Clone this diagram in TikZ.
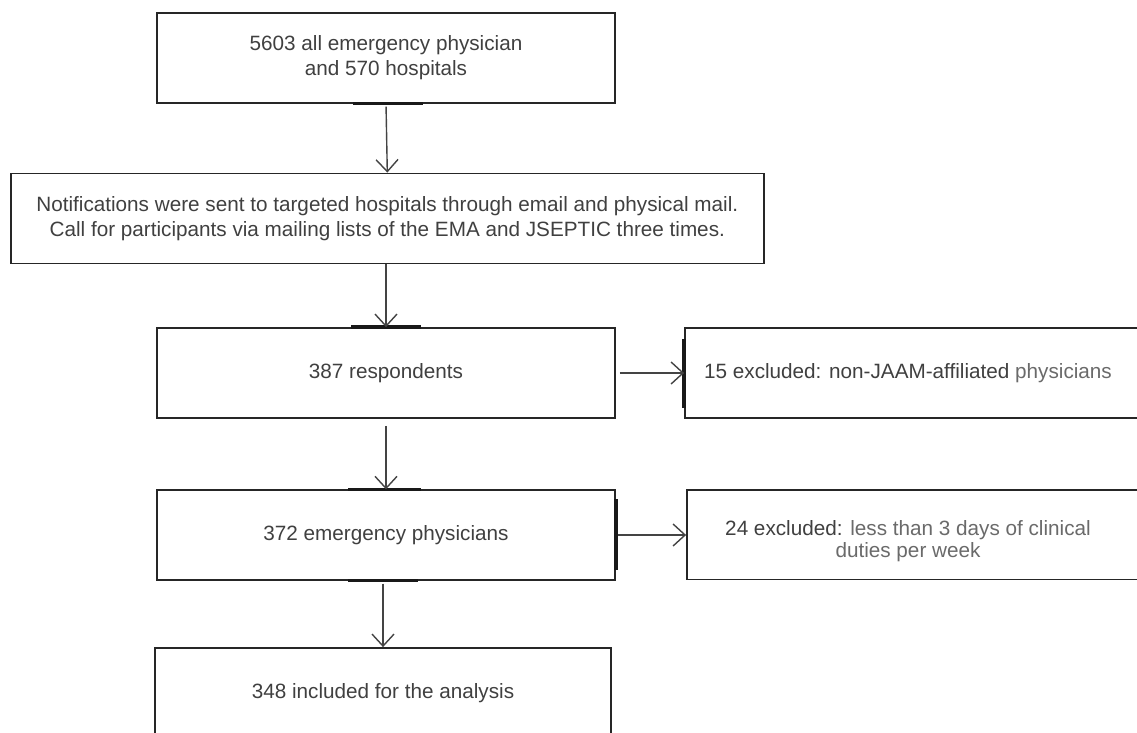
\documentclass[tikz,border=0pt]{standalone}
\usepackage{fontspec}
\setmainfont{Liberation Sans}
\usetikzlibrary{arrows.meta}
\definecolor{txt}{HTML}{404040}
\definecolor{txtl}{HTML}{6A6A6A}
\definecolor{edge}{HTML}{262626}
\definecolor{arrc}{HTML}{444444}
\begin{document}
\begin{tikzpicture}[x=1pt,y=-1pt,
  box/.style={draw=edge, line width=1.8pt, inner sep=0pt, align=center, text=txt,
    font=\fontsize{20.7}{25}\selectfont},
  lbl/.style={inner sep=0pt, align=center, text=txt, font=\fontsize{20.7}{25}\selectfont},
  arr/.style={draw=arrc, line width=1.4pt, -{Straight Barb[length=12pt,width=22pt]}},
  bar/.style={draw=black!90, line width=3.6pt}]
\useasboundingbox (0,0) rectangle (1137,732);
\fill[white] (0,0) rectangle (1137,732);
\begin{scope}
\clip (0,0) rectangle (1137,732);
\node[box, minimum width=458pt, minimum height=90pt] (n1) at (386,57.7)
  {5603 all emergency physician\\and 570 hospitals};
\node[box, minimum width=753pt, minimum height=90pt] (n2) at (387.3,218.5)
  {Notifications were sent to targeted hospitals through email and physical mail.\\
   Call for participants via mailing lists of the EMA and JSEPTIC three times.};
\node[box, minimum width=458pt, minimum height=90pt] (n3) at (386,373) {387 respondents};
\node[box, minimum width=460pt, minimum height=90pt] (r1) at (915,373) {};
\node[lbl] (t1) at (908,373) {15 excluded: non-JAAM-affiliated \textcolor{txtl}{physicians}};
\node[box, minimum width=458pt, minimum height=89.5pt] (n4) at (386,535) {372 emergency physicians};
\node[box, minimum width=458pt, minimum height=89.5pt] (r2) at (916,534.7) {};
\node[lbl, font=\fontsize{20.7}{22}\selectfont] (t2) at (908,541)
  {24 excluded: \textcolor{txtl}{less than 3 days of clinical}\\\textcolor{txtl}{duties per week}};
\node[box, minimum width=456pt, minimum height=90pt] (n5) at (383,693) {348 included for the analysis};
\end{scope}
% thicker segments on box edges
\draw[bar] (n1.south) ++(-33,0) -- ++(70,0);
\draw[bar] (n3.north) ++(-35,0) -- ++(70,0);
\draw[bar] (n4.north) ++(-38,0) -- ++(73,0);
\draw[bar] (n4.south) ++(-38,0) -- ++(70,0);
\draw[bar] (n4.east) ++(0,-36) -- ++(0,71);
\draw[bar] (r1.west) ++(0,-34) -- ++(0,69);
% connectors
\draw[arr, shorten <=3pt] (n1.south) -- (n2.north);
\draw[arr] (n3.north |- n2.south) -- (n3.north);
\draw[arr, shorten <=7pt] (n3.south) -- (n4.north);
\draw[arr, shorten <=3pt] (n5.north |- n4.south) -- (n5.north);
\draw[arr, shorten <=4pt] (n3.east) -- (n3.east -| r1.west);
\draw[arr, shorten <=2pt] (n4.east) -- (n4.east -| r2.west);
\end{tikzpicture}
\end{document}
